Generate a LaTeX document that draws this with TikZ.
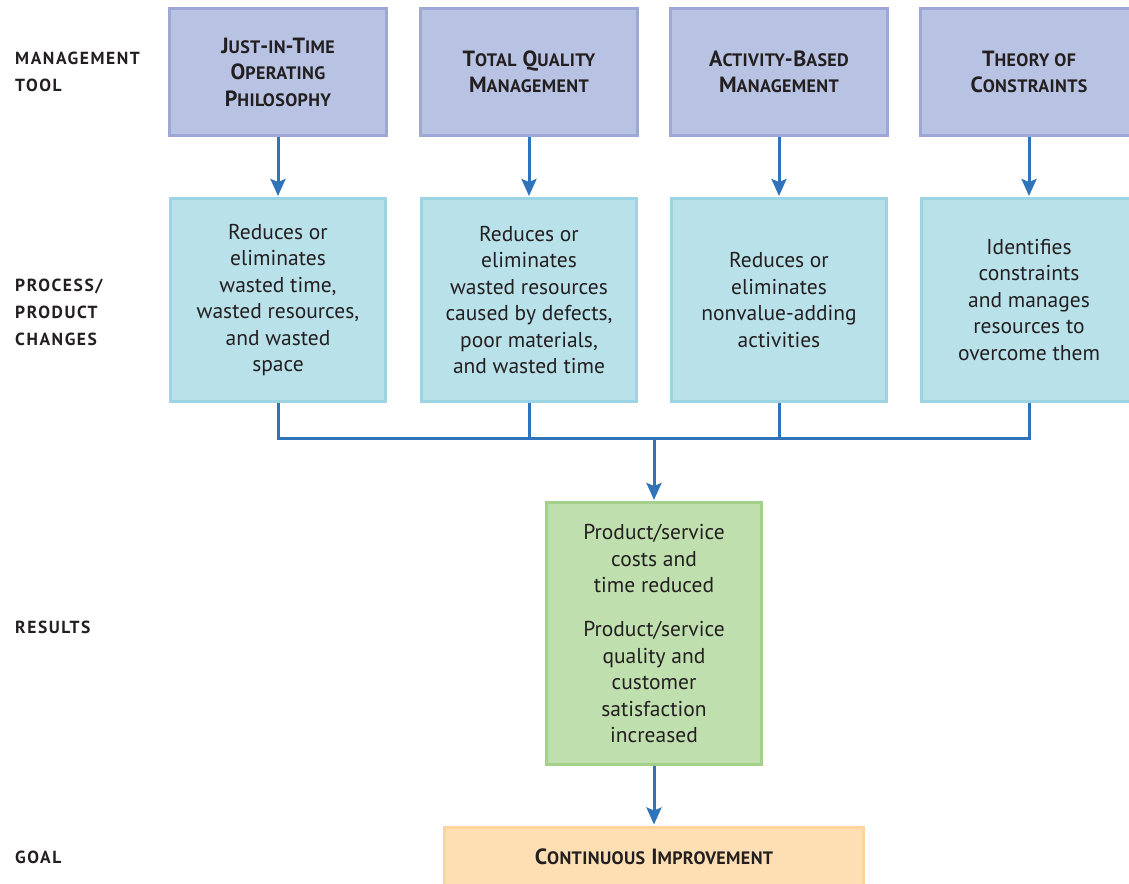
\documentclass[tikz,border=0pt]{standalone}
\usepackage{fontspec}
\setmainfont{PT Sans}
\newfontfamily\labfont[LetterSpace=9]{PT Sans}
\newfontfamily\titfont[LetterSpace=2]{PT Sans}
\usetikzlibrary{arrows.meta}
\definecolor{txt}{HTML}{231F20}
\definecolor{purpfill}{HTML}{B8C2E2}
\definecolor{purpline}{HTML}{9DA8D6}
\definecolor{cyanfill}{HTML}{B9E1EA}
\definecolor{cyanline}{HTML}{9DD4E3}
\definecolor{grnfill}{HTML}{C0DFAE}
\definecolor{grnline}{HTML}{A3D18B}
\definecolor{orgfill}{HTML}{FDDFB3}
\definecolor{orgline}{HTML}{FBD59A}
\definecolor{arrblue}{HTML}{2F74BA}
\newcommand{\BC}[1]{{\fontsize{22}{26.5}\selectfont #1}}
\newcommand{\SM}[1]{{\fontsize{18}{26.5}\selectfont #1}}
\begin{document}
\begin{tikzpicture}[x=1pt,y=-1pt,
  box/.style={draw,line width=3pt,inner sep=0pt,align=center,text=txt},
  toolbox/.style={box,fill=purpfill,draw=purpline,minimum width=217pt,minimum height=127pt,font=\titfont\bfseries\fontsize{22}{26.5}\selectfont},
  changebox/.style={box,fill=cyanfill,draw=cyanline,minimum width=215pt,minimum height=203pt,font=\fontsize{21.5}{26.5}\selectfont},
  resbox/.style={box,fill=grnfill,draw=grnline,minimum width=215pt,minimum height=262pt,font=\fontsize{21.5}{26.5}\selectfont},
  goalbox/.style={box,fill=orgfill,draw=orgline,minimum width=419pt,minimum height=60pt,font=\titfont\bfseries\fontsize{22}{26.5}\selectfont},
  lab/.style={anchor=west,align=left,text=txt,inner sep=0pt,font=\labfont\bfseries\fontsize{17.5}{27}\selectfont},
  conn/.style={draw=arrblue,line width=3pt},
  arr/.style={conn,-{Stealth[width=15pt,length=17pt,inset=3pt]},shorten >=1pt}
]
\useasboundingbox (0,0) rectangle (1129,883);

\node[lab] (l1) at (15,72) {MANAGEMENT\\TOOL};
\node[lab] (l2) at (15,312) {PROCESS/\\PRODUCT\\CHANGES};
\node[lab] (l3) at (15,627) {RESULTS};
\node[lab] (l4) at (15,857) {GOAL};

\node[toolbox] (t1) at (278,72) {\BC{J}\SM{UST}-\SM{IN}-\BC{T}\SM{IME}\\\BC{O}\SM{PERATING}\\\BC{P}\SM{HILOSOPHY}};
\node[toolbox] (t2) at (529,72) {\BC{T}\SM{OTAL} \BC{Q}\SM{UALITY}\\\BC{M}\SM{ANAGEMENT}};
\node[toolbox] (t3) at (779,72) {\BC{A}\SM{CTIVITY}-\BC{B}\SM{ASED}\\\BC{M}\SM{ANAGEMENT}};
\node[toolbox] (t4) at (1029,72) {\BC{T}\SM{HEORY OF}\\\BC{C}\SM{ONSTRAINTS}};

\node[changebox] (c1) at (278,300) {Reduces or\\eliminates\\wasted time,\\wasted resources,\\and wasted\\space};
\node[changebox] (c2) at (529,300) {Reduces or\\eliminates\\wasted resources\\caused by defects,\\poor materials,\\and wasted time};
\node[changebox] (c3) at (779,300) {Reduces or\\eliminates\\nonvalue-adding\\activities};
\node[changebox] (c4) at (1029,300) {Identifies\\constraints\\and manages\\resources to\\overcome them};

\node[resbox] (r) at (654,633.5) {Product/service\\costs and\\time reduced\\[17.5pt]Product/service\\quality and\\customer\\satisfaction\\increased};

\node[goalbox] (g) at (654,857) {\BC{C}\SM{ONTINUOUS} \BC{I}\SM{MPROVEMENT}};

\coordinate (j) at (654,438);

\draw[arr] (t1) -- (c1);
\draw[arr] (t2) -- (c2);
\draw[arr] (t3) -- (c3);
\draw[arr] (t4) -- (c4);

\draw[conn] (c1.south) |- (j) -| (c4.south);
\draw[conn] (c2.south) -- (c2.south |- j);
\draw[conn] (c3.south) -- (c3.south |- j);
\draw[arr] (j) -- (r.north);
\draw[arr] (r.south) -- (g.north);
\end{tikzpicture}
\end{document}
